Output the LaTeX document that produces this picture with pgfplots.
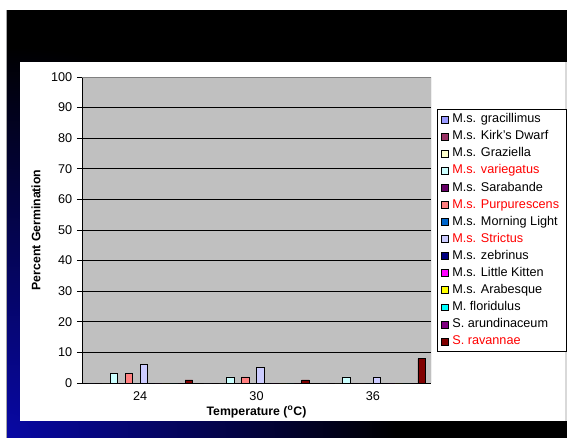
\documentclass[border=0pt]{standalone}
\usepackage{pgfplots}
\pgfplotsset{compat=1.18}
\usepackage{pgfplotstable}
\usepackage{fontspec}
\setmainfont{Liberation Sans}

% Excel-style palette
\definecolor{cGracil}{HTML}{9999FF}
\definecolor{cKirk}{HTML}{993366}
\definecolor{cGraz}{HTML}{FFFFCC}
\definecolor{cVarieg}{HTML}{CCFFFF}
\definecolor{cSarab}{HTML}{660066}
\definecolor{cPurp}{HTML}{FF8080}
\definecolor{cMorn}{HTML}{0066CC}
\definecolor{cStrict}{HTML}{CCCCFF}
\definecolor{cZebr}{HTML}{000080}
\definecolor{cKitten}{HTML}{FF00FF}
\definecolor{cArab}{HTML}{FFFF00}
\definecolor{cFlor}{HTML}{00FFFF}
\definecolor{cArund}{HTML}{800080}
\definecolor{cRav}{HTML}{800000}
\definecolor{plotGray}{HTML}{C0C0C0}
\definecolor{slideBlue}{RGB}{8,8,165}

% germination (%) per temperature: 0 = 24, 1 = 30, 2 = 36 degrees C
\pgfplotstableread{
x gra kirk graz var sara purp morn stri zeb kit arab flor arun rav
0 0   0    0    3   0    3    0    6    0   0   0    0    0    1
1 0   0    0    2   0    2    0    5    0   0   0    0    0    1
2 0   0    0    2   0    0    0    2    0   0   0    0    0    8
}\germdata

\begin{document}
\begin{tikzpicture}[x=0.75pt,y=0.75pt]
\useasboundingbox (0,0) rectangle (567,437);
% slide background (fills run past the page edge so no seam shows)
\fill[white] (-5,-5) rectangle (572,442);
\fill[black] (6,-5) rectangle (572,427);
\begin{scope}
  \clip (6,-5) rectangle (572,427);
  \shade[inner color=slideBlue, outer color=black] (6,0) circle (390);
\end{scope}
\draw[black!35, line width=0.5pt] (6.3,-5) -- (6.3,427);
\fill[white] (20,16) rectangle (565,375);
\fill[black!15] (565,16) rectangle (572,375);

\begin{axis}[
  at={(61.5pt,40.5pt)}, anchor=south west,
  width=261.75pt, height=229.5pt, scale only axis,
  xmin=-0.5, xmax=2.5, ymin=0, ymax=100,
  axis background/.style={fill=plotGray},
  axis x line*=bottom, axis y line*=left,
  axis line style={black, line width=0.6pt},
  ybar=0pt, bar width=0.0645,
  xtick={0,1,2}, xticklabels={24,30,36},
  minor xtick={0.5,1.5},
  ytick={0,10,...,100},
  tick align=outside,
  major tick length=3.75pt, minor tick length=2.5pt,
  xtick style={draw=none},
  every tick/.style={black, line width=0.6pt},
  ymajorgrids, grid style={black, line width=0.6pt},
  /pgf/number format/assume math mode=true,
  tick label style={font=\fontsize{9.5}{11}\selectfont},
  xticklabel style={anchor=center, yshift=-6pt},
  xlabel={Temperature (\textsuperscript{o}C)},
  ylabel={Percent Germination},
  label style={font=\fontsize{9.2}{11}\selectfont\bfseries},
  xlabel style={at={(axis description cs:0.5,-0.0948)}, anchor=center},
  ylabel style={at={(axis description cs:-0.1318,0.5)}, anchor=center},
  every axis plot/.append style={draw=black, line width=0.5pt},
  legend image code/.code={\draw[#1, line width=0.4pt] (0pt,-2.6pt) rectangle (5.2pt,2.6pt);},
  legend cell align=left,
  legend style={
    at={(1.0172,0.8954)}, anchor=north west,
    draw=black, line width=0.6pt, fill=white,
    font=\fontsize{9.5}{11}\selectfont,
    inner xsep=3pt, inner ysep=3pt,
    row sep=3.6pt,
    nodes={inner xsep=2.6pt, inner ysep=0pt, text height=7pt, text depth=2.2pt},
  },
]
\addplot[fill=cGracil]  table[x=x,y=gra]  {\germdata};
\addplot[fill=cKirk]    table[x=x,y=kirk] {\germdata};
\addplot[fill=cGraz]    table[x=x,y=graz] {\germdata};
\addplot[fill=cVarieg]  table[x=x,y=var]  {\germdata};
\addplot[fill=cSarab]   table[x=x,y=sara] {\germdata};
\addplot[fill=cPurp]    table[x=x,y=purp] {\germdata};
\addplot[fill=cMorn]    table[x=x,y=morn] {\germdata};
\addplot[fill=cStrict]  table[x=x,y=stri] {\germdata};
\addplot[fill=cZebr]    table[x=x,y=zeb]  {\germdata};
\addplot[fill=cKitten]  table[x=x,y=kit]  {\germdata};
\addplot[fill=cArab]    table[x=x,y=arab] {\germdata};
\addplot[fill=cFlor]    table[x=x,y=flor] {\germdata};
\addplot[fill=cArund]   table[x=x,y=arun] {\germdata};
\addplot[fill=cRav]     table[x=x,y=rav]  {\germdata};
\legend{M.s. gracillimus, M.s. Kirk's Dwarf, M.s. Graziella,
  \textcolor{red}{M.s. variegatus}, M.s. Sarabande,
  \textcolor{red}{M.s. Purpurescens}, M.s. Morning Light,
  \textcolor{red}{M.s. Strictus}, M.s. zebrinus, M.s. Little Kitten,
  M.s. Arabesque, M. floridulus, S. arundinaceum,
  \textcolor{red}{S. ravannae}}
% plot-area frame on the open sides
\draw[gray, line width=0.6pt] (rel axis cs:0,1) -- (rel axis cs:1,1) -- (rel axis cs:1,0);
\end{axis}
\end{tikzpicture}
\end{document}
